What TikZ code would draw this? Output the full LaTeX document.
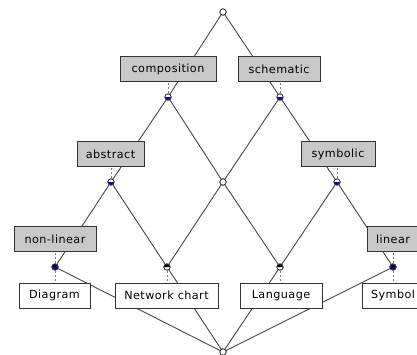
\documentclass[tikz,border=0pt]{standalone}
\usepackage{fontspec}
\setmainfont{DejaVu Sans}[LetterSpace=4]
\definecolor{boxgray}{RGB}{200,200,200}
\definecolor{edgegray}{RGB}{70,70,70}
\definecolor{attrblue}{RGB}{0,0,200}
\begin{document}
\begin{tikzpicture}[x=1pt,y=-1pt,
  edge/.style={draw=edgegray,line width=0.9pt},
  link/.style={draw=gray,line width=0.6pt,dash pattern=on 2pt off 2pt},
  attr/.style={draw=black!80,fill=boxgray,line width=0.8pt,minimum height=25pt,inner sep=0pt,font=\fontsize{11.2}{12}\selectfont},
  obj/.style={draw=black!80,fill=white,line width=0.8pt,minimum height=25pt,inner sep=0pt,font=\fontsize{11.2}{12}\selectfont},
  pt/.style={circle,draw=black!80,fill=white,line width=0.6pt,minimum size=6.5pt,inner sep=0pt}]
\useasboundingbox (0,0) rectangle (417,354);
\clip (0,0) rectangle (417,354);
% lattice points
\coordinate (top) at (223,12);
\coordinate (comp) at (168,97);
\coordinate (sch) at (280,97);
\coordinate (abs) at (111,182);
\coordinate (cen) at (223,182);
\coordinate (sym) at (337,182);
\coordinate (nl) at (55,267);
\coordinate (net) at (167,267);
\coordinate (lan) at (280,267);
\coordinate (lin) at (393,267);
\coordinate (bot) at (223,352);
% edges
\draw[edge] (top) -- (comp);
\draw[edge] (top) -- (sch);
\draw[edge] (comp) -- (abs);
\draw[edge] (comp) -- (cen);
\draw[edge] (sch) -- (cen);
\draw[edge] (sch) -- (sym);
\draw[edge] (abs) -- (nl);
\draw[edge] (abs) -- (net);
\draw[edge] (cen) -- (net);
\draw[edge] (cen) -- (lan);
\draw[edge] (sym) -- (lan);
\draw[edge] (sym) -- (lin);
\draw[edge] (nl) -- (bot);
\draw[edge] (net) -- (bot);
\draw[edge] (lan) -- (bot);
\draw[edge] (lin) -- (bot);
% labels
\node[attr,minimum width=96pt] (Lcomp) at (168,69) {composition};
\node[attr,minimum width=82pt] (Lsch) at (279,69) {schematic};
\node[attr,minimum width=67pt] (Labs) at (110.5,154) {abstract};
\node[attr,minimum width=74pt] (Lsym) at (338,154) {symbolic};
\node[attr,minimum width=82pt] (Lnl) at (55,239) {non-linear};
\node[attr,minimum width=52pt] (Llin) at (393,239) {linear};
\node[obj,minimum width=71pt] (Odia) at (54.5,295.5) {Diagram};
\node[obj,minimum width=103pt] (Onet) at (166.5,295.5) {Network chart};
\node[obj,minimum width=82pt] (Olan) at (281,295.5) {Language};
\node[obj,minimum width=62pt] (Osym) at (393,295.5) {Symbol};
% dashed links
\draw[link] (comp) -- (comp |- Lcomp.south);
\draw[link] (sch) -- (sch |- Lsch.south);
\draw[link] (abs) -- (abs |- Labs.south);
\draw[link] (sym) -- (sym |- Lsym.south);
\draw[link] (nl) -- (nl |- Lnl.south);
\draw[link] (lin) -- (lin |- Llin.south);
\draw[link] (nl) -- (nl |- Odia.north);
\draw[link] (net) -- (net |- Onet.north);
\draw[link] (lan) -- (lan |- Olan.north);
\draw[link] (lin) -- (lin |- Osym.north);
% point markers
\foreach \p in {top,comp,sch,abs,cen,sym,nl,net,lan,lin,bot}
  \node[pt] (m\p) at (\p) {};
\foreach \p in {comp,sch,abs,sym,nl,lin}
  \fill[attrblue] ([xshift=3pt]\p) arc[start angle=0,end angle=-180,radius=3pt] -- cycle;
\foreach \p in {nl,net,lan,lin}
  \fill[black] ([xshift=3pt]\p) arc[start angle=0,end angle=180,radius=3pt] -- cycle;
\foreach \p in {top,comp,sch,abs,cen,sym,nl,net,lan,lin,bot}
  \draw[black!80,line width=0.6pt] (\p) circle[radius=3.2pt];
\end{tikzpicture}
\end{document}
